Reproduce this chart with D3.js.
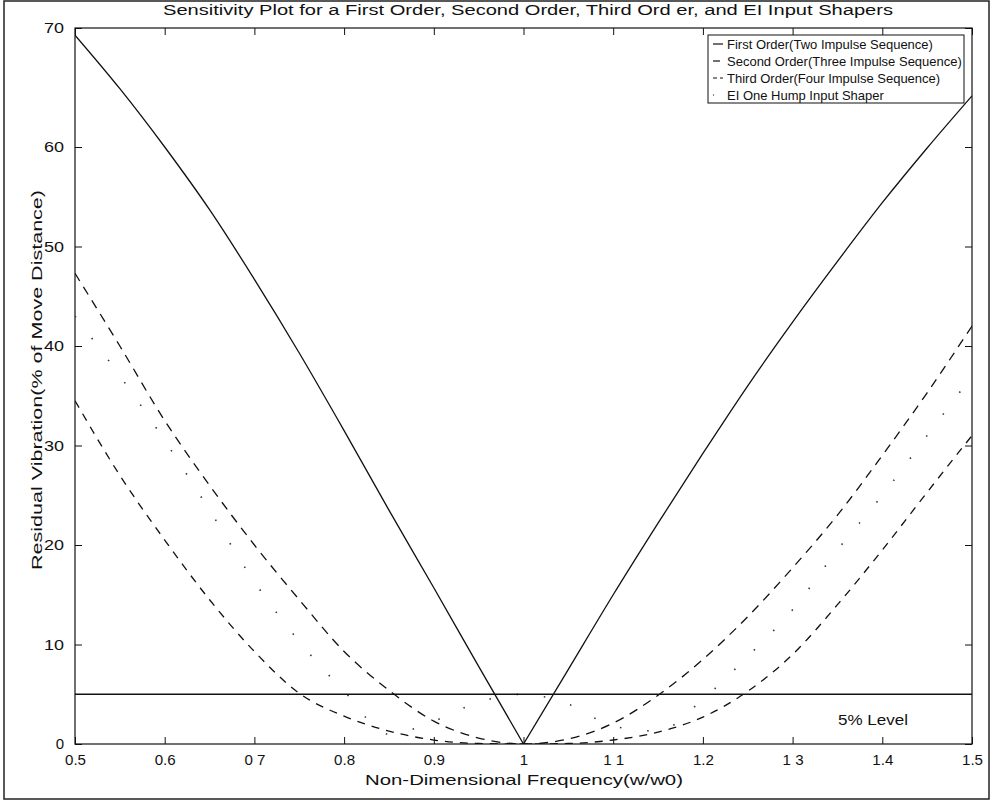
<!DOCTYPE html>
<html>
<head>
<meta charset="utf-8">
<script src="https://cdn.jsdelivr.net/npm/d3@7"></script>
<style>
  body { margin: 0; background: #fff; }
  svg text { font-family: "Liberation Sans", Arial, sans-serif; fill: #111; }
</style>
</head>
<body>
<div id="chart"></div>
<script>
// frequency samples (w/w0)
const freqs = [0.5, 0.55, 0.6, 0.65, 0.7, 0.75, 0.8, 0.85, 0.9, 0.95, 1.0,
               1.05, 1.1, 1.15, 1.2, 1.25, 1.3, 1.35, 1.4, 1.45, 1.5];

// residual vibration, % of move distance
const firstOrder  = [69.4, 64.9, 60, 53.7, 46.7, 39.3, 31.5, 23.5, 15.7, 7.8, 0,
                     7.5, 15, 22.2, 29.2, 36, 42.4, 48.5, 54.4, 59.9, 64.3];
const secondOrder = [47.3, 40, 32.5, 26, 20, 14.5, 9.3, 5.4, 2.3, 0.6, 0,
                     0.5, 2.1, 4.9, 8.5, 12.8, 17.7, 23, 29, 35.3, 42];
const thirdOrder  = [34.5, 27, 20.5, 14.5, 9.3, 5.1, 2.8, 1.3, 0.4, 0.05, 0,
                     0.05, 0.4, 1.2, 2.7, 5.3, 9, 14, 19.5, 25.3, 31];
const eiShaper    = [43, 37, 30.5, 23.5, 16.3, 10.3, 5.3, 1, 2.3, 4.2, 5,
                     4, 1.8, 1.3, 4.5, 8.8, 13.5, 19.5, 25, 31, 37];

const xTicks = [0.5, 0.6, 0.7, 0.8, 0.9, 1, 1.1, 1.2, 1.3, 1.4, 1.5];
const xTickLabels = ["0.5", "0.6", "0 7", "0.8", "0.9", "1", "1 1", "1.2", "1 3", "1.4", "1.5"];
const yTicks = [0, 10, 20, 30, 40, 50, 60, 70];
const levelValue = 5;

const legendLabels = [
  "First Order(Two Impulse Sequence)",
  "Second Order(Three Impulse Sequence)",
  "Third Order(Four Impulse Sequence)",
  "EI One Hump Input Shaper"
];

const width = 992, height = 804;

const svg = d3.select("#chart").append("svg")
  .attr("width", width).attr("height", height);

// scanned page frame
svg.append("rect")
  .attr("x", 4).attr("y", 1).attr("width", 985).attr("height", 798)
  .attr("fill", "none").attr("stroke", "#222").attr("stroke-width", 1.5);

const x = d3.scaleLinear().domain([0.5, 1.5]).range([75, 972]);
// the scanned page is stretched near the top, so the 60-70 band is taller
const y = d3.scaleLinear().domain([0, 60, 70]).range([744, 147, 28]);

const x0 = 75, x1 = 972, y0 = y(0), y1 = y(70);

// axes (ticks inside, Matlab style)
svg.append("g")
  .attr("transform", `translate(0,${y0})`)
  .call(d3.axisBottom(x).tickValues(xTicks).tickSizeInner(-7).tickSizeOuter(0)
    .tickPadding(10).tickFormat((d, i) => xTickLabels[i]))
  .call(g => g.select(".domain").remove())
  .call(g => g.selectAll("text").attr("font-size", 15)
    .attr("textLength", d => d === 1 ? null : 21).attr("lengthAdjust", "spacingAndGlyphs"));

svg.append("g")
  .attr("transform", `translate(0,${y1})`)
  .call(d3.axisTop(x).tickValues(xTicks).tickSizeInner(-7).tickSizeOuter(0).tickFormat(""))
  .call(g => g.select(".domain").remove());

svg.append("g")
  .attr("transform", `translate(${x0},0)`)
  .call(d3.axisLeft(y).tickValues(yTicks).tickSizeInner(-7).tickSizeOuter(0).tickPadding(11))
  .call(g => g.select(".domain").remove())
  .call(g => g.selectAll("text").attr("font-size", 15)
    .attr("textLength", d => d === 0 ? null : 20).attr("lengthAdjust", "spacingAndGlyphs"));

svg.append("g")
  .attr("transform", `translate(${x1},0)`)
  .call(d3.axisRight(y).tickValues(yTicks).tickSizeInner(-7).tickSizeOuter(0).tickFormat(""))
  .call(g => g.select(".domain").remove());

svg.append("rect")
  .attr("x", x0).attr("y", y1).attr("width", x1 - x0).attr("height", y0 - y1)
  .attr("fill", "none").attr("stroke", "#111").attr("stroke-width", 1.2);

svg.selectAll(".tick line").attr("stroke", "#111");

// curves
svg.append("clipPath").attr("id", "clip").append("rect")
  .attr("x", x0).attr("y", y1).attr("width", x1 - x0).attr("height", y0 - y1);

const plot = svg.append("g").attr("clip-path", "url(#clip)");

const line = d3.line().x(d => x(d[0])).y(d => y(d[1])).curve(d3.curveMonotoneX);

// first order: draw each branch on its own so the notch at w/w0 = 1 stays sharp
const firstPts = d3.zip(freqs, firstOrder);
[firstPts.filter(d => d[0] <= 1), firstPts.filter(d => d[0] >= 1)].forEach(branch => {
  plot.append("path")
    .datum(branch)
    .attr("d", line)
    .attr("fill", "none")
    .attr("stroke", "#111")
    .attr("stroke-width", 1.3);
});

const series = [
  {vals: secondOrder, dash: "9,7",    w: 1.3, c: "#111"},
  {vals: thirdOrder,  dash: "8,7",    w: 1.3, c: "#111"},
  {vals: eiShaper,    dash: "1.5,26", w: 1.6, c: "#333"}
];

series.forEach(s => {
  plot.append("path")
    .datum(d3.zip(freqs, s.vals))
    .attr("d", line)
    .attr("fill", "none")
    .attr("stroke", s.c)
    .attr("stroke-width", s.w)
    .attr("stroke-dasharray", s.dash);
});

// 5% level
plot.append("line")
  .attr("x1", x0).attr("x2", x1)
  .attr("y1", y(levelValue)).attr("y2", y(levelValue))
  .attr("stroke", "#111").attr("stroke-width", 1.3);

svg.append("text")
  .attr("x", 838).attr("y", y(2.5) + 6)
  .attr("font-size", 15)
  .attr("textLength", 70).attr("lengthAdjust", "spacingAndGlyphs")
  .text("5% Level");

// legend
const lg = svg.append("g").attr("transform", "translate(708,35)");
lg.append("rect")
  .attr("width", 256).attr("height", 68)
  .attr("fill", "#fff").attr("stroke", "#111").attr("stroke-width", 1);

legendLabels.forEach((lab, i) => {
  const ly = 9 + i * 17;
  lg.append("line")
    .attr("x1", 5).attr("x2", 15).attr("y1", ly).attr("y2", ly)
    .attr("stroke", "#111").attr("stroke-width", 1.2)
    .attr("stroke-dasharray", i === 0 ? null : i === 3 ? "1,20" : i === 1 ? "7,4" : "4,3");
  lg.append("text")
    .attr("x", 19).attr("y", ly + 4.5)
    .attr("font-size", 13)
    .text(lab);
});

// titles
svg.append("text")
  .attr("x", 163).attr("y", 15)
  .attr("font-size", 14)
  .attr("textLength", 730).attr("lengthAdjust", "spacingAndGlyphs")
  .text("Sensitivity Plot for a First Order, Second Order, Third Ord er, and EI Input Shapers");

svg.append("text")
  .attr("x", 365).attr("y", 785)
  .attr("font-size", 15)
  .attr("textLength", 318).attr("lengthAdjust", "spacingAndGlyphs")
  .text("Non-Dimensional Frequency(w/w0)");

svg.append("text")
  .attr("transform", "translate(42,570) rotate(-90)")
  .attr("font-size", 15)
  .attr("textLength", 380).attr("lengthAdjust", "spacingAndGlyphs")
  .text("Residual Vibration(% of Move Distance)");
</script>
</body>
</html>
